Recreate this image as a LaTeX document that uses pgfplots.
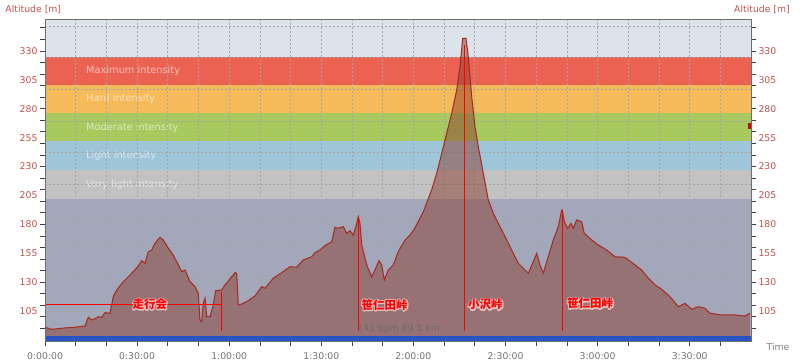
\documentclass[border=0pt]{standalone}
\usepackage{pgfplots}
\pgfplotsset{compat=1.18}
\usepackage{fontspec}
\setmainfont{DejaVu Sans}
\newfontfamily\cjk{Noto Sans CJK JP}
\definecolor{bgtop}{RGB}{221,227,234}
\definecolor{bgbot}{RGB}{163,167,186}
\definecolor{bmax}{RGB}{236,98,82}
\definecolor{bhard}{RGB}{245,186,90}
\definecolor{bmod}{RGB}{168,201,94}
\definecolor{blight}{RGB}{159,197,216}
\definecolor{bvlight}{RGB}{194,194,194}
\definecolor{proffill}{RGB}{140,62,48}
\definecolor{profline}{RGB}{165,40,30}
\definecolor{barblue}{RGB}{40,85,195}
\definecolor{ticklab}{RGB}{190,82,76}
\definecolor{gridc}{RGB}{165,165,165}
\definecolor{halo}{RGB}{240,205,205}
\definecolor{axc}{RGB}{110,110,110}
\tikzset{
  jhalo/.style={text=halo, text opacity=0.85, inner sep=0pt, font={\cjk\bfseries\fontsize{11.5bp}{13bp}\selectfont}},
  jtext/.style={text=red, inner sep=0pt, font={\cjk\bfseries\fontsize{11.5bp}{13bp}\selectfont}},
  gridl/.style={draw=gridc, line width=0.7bp, dash pattern=on 2bp off 2bp},
  bandlab/.style={text=white, text opacity=0.6, anchor=west, inner sep=0pt, font={\fontsize{9.8bp}{11bp}\selectfont}}
}
\newcommand{\outl}[1]{\special{pdf:literal direct q 1 Tr 2.2 w 1 j}#1\special{pdf:literal direct Q}}
\newcommand{\jlab}[4]{%
  \node[jhalo,anchor=#3] at (axis cs:#1,#2) {\outl{#4}};
  \node[jtext,anchor=#3] at (axis cs:#1,#2) {#4};
}
\begin{document}
\begin{tikzpicture}
\path[use as bounding box] (-45bp,-23bp) rectangle (755bp,341bp);
\begin{axis}[
  at={(0,0)}, anchor=south west,
  scale only axis, width=706bp, height=321bp,
  xmin=0, xmax=229.97, ymin=79.1, ymax=356.8,
  clip=false, axis on top,
  axis line style={draw=axc, line width=1bp},
  tick align=outside, major tick length=5bp,
  tick style={draw=black!75, line width=0.8bp},
  xtick pos=bottom, ytick pos=left,
  xtick={0,10,...,220},
  xticklabels={0:00:00,{},{},0:30:00,{},{},1:00:00,{},{},1:30:00,{},{},2:00:00,{},{},2:30:00,{},{},3:00:00,{},{},3:30:00,{},{}},
  xticklabel style={text=black!55, font={\fontsize{9.3bp}{11bp}\selectfont}, yshift=-3bp},
  ytick={90,100,...,350}, yticklabels={},
  extra y ticks={105,130,155,180,205,230,255,280,305,330},
  extra y tick labels={105,130,155,180,205,230,255,280,305,330},
  extra y tick style={major tick length=0pt, yticklabel style={text=ticklab, font={\fontsize{9.3bp}{11bp}\selectfont}, xshift=-4bp}},
]
% background and intensity bands
\fill[bgbot] (axis cs:0,79.1) rectangle (axis cs:229.97,202.0);
\fill[bvlight] (axis cs:0,202.0) rectangle (axis cs:229.97,227.1);
\fill[blight] (axis cs:0,227.1) rectangle (axis cs:229.97,252.0);
\fill[bmod] (axis cs:0,252.0) rectangle (axis cs:229.97,276.4);
\fill[bhard] (axis cs:0,276.4) rectangle (axis cs:229.97,300.6);
\fill[bmax] (axis cs:0,300.6) rectangle (axis cs:229.97,324.8);
\fill[bgtop] (axis cs:0,324.8) rectangle (axis cs:229.97,356.8);
\node[bandlab] at (axis cs:13.36,312.7) {Maximum intensity};
\node[bandlab] at (axis cs:13.36,288.5) {Hard intensity};
\node[bandlab] at (axis cs:13.36,263.4) {Moderate intensity};
\node[bandlab] at (axis cs:13.36,239.2) {Light intensity};
\node[bandlab] at (axis cs:13.36,214.1) {Very light intensity};
% grid
\pgfplotsinvokeforeach{10,20,...,220}{\draw[gridl] (axis cs:#1,79.1) -- (axis cs:#1,356.8);}
\pgfplotsinvokeforeach{105.0,132.4,159.8,187.2,214.6,242.0,269.4,296.8,324.2,351.6}{\draw[gridl] (axis cs:0,#1) -- (axis cs:229.97,#1);}
% altitude profile
\pgfplotstableread{
t alt
0 91.0
2.18 89.2
6.51 90.4
9.77 91.0
13.02 92.1
14.10 99.6
15.22 97.3
16.29 98.4
17.37 100.1
18.47 99.6
19.55 103.6
21.17 103.1
22.25 117.4
23.35 123.2
25.50 130.4
27.13 134.7
28.76 139.1
30.39 144.0
31.50 148.6
32.57 146.3
33.65 156.4
34.75 157.8
35.83 163.6
37.46 168.8
38.54 166.5
40.16 159.3
41.79 153.5
43.42 144.9
44.53 139.1
45.61 140.5
47.23 130.4
48.86 126.1
49.94 120.4
50.49 97.3
51.04 95.8
51.56 111.7
52.12 116.1
52.68 100.1
53.74 100.1
54.82 110.3
55.60 122.6
57.56 123.2
58.63 127.6
60.81 134.7
61.89 138.2
62.44 137.7
62.96 110.3
64.07 111.1
66.22 114.0
68.40 118.1
70.59 126.1
71.67 124.7
74.36 133.4
77.10 138.2
79.80 143.4
81.99 142.9
84.13 149.2
86.87 152.0
87.95 155.5
89.58 157.8
91.20 161.6
93.38 165.0
94.46 177.5
95.53 176.6
97.17 178.0
98.27 172.3
99.35 174.5
100.42 170.8
101.53 180.9
102.06 186.7
102.60 180.9
103.16 162.2
104.78 144.9
106.42 134.7
107.49 140.5
108.80 148.6
109.67 144.9
110.53 131.9
111.82 140.5
113.46 144.9
115.08 156.4
117.26 166.5
118.89 170.8
120.29 175.8
123.23 191.0
125.96 209.8
127.59 224.2
129.22 241.5
130.84 258.8
132.48 276.1
134.11 296.3
135.18 316.4
136.06 341.0
137.14 341.0
137.88 325.1
138.99 290.5
140.07 264.5
141.14 247.2
142.77 224.2
144.40 201.1
146.03 189.6
148.21 178.0
150.39 166.5
152.54 155.0
154.18 146.3
155.80 142.0
157.43 137.7
159.05 147.7
160.16 155.0
161.24 144.9
162.31 137.7
163.94 152.0
165.57 166.5
167.20 178.0
168.30 192.4
168.50 192.4
169.15 182.3
170.26 176.6
171.33 180.9
172.09 176.6
173.19 183.8
174.82 182.3
175.66 172.3
178.07 166.5
180.22 162.2
182.96 157.8
185.67 152.0
188.93 151.5
192.18 144.9
194.36 140.5
196.52 133.4
198.70 127.6
200.88 123.8
203.59 117.4
206.28 108.8
208.47 111.7
210.66 106.5
212.81 108.8
214.99 107.4
216.61 103.1
220.42 101.6
224.76 101.6
228.01 100.7
229.64 103.1
}\profile
\addplot[draw=none, fill=proffill, fill opacity=0.5] table[x=t,y=alt] {\profile} \closedcycle;
\addplot[draw=profline, line width=1bp] table[x=t,y=alt] {\profile};
% bottom bar
\fill[barblue] (axis cs:0,79.1) rectangle (axis cs:229.97,83.6);
% markers
\draw[red, line width=1bp] (axis cs:0,110.9) -- (axis cs:57.33,110.9);
\draw[red, line width=1bp] (axis cs:57.33,121.8) -- (axis cs:57.33,88.0);
\draw[red, line width=1bp] (axis cs:102.05,186.7) -- (axis cs:102.05,88.0);
\draw[red, line width=1bp] (axis cs:136.58,335.2) -- (axis cs:136.58,88.0);
\draw[red, line width=1bp] (axis cs:168.50,191.0) -- (axis cs:168.50,88.0);
\fill[red!85!black] (axis cs:229.1,262.5) rectangle (axis cs:229.97,268.0);
\jlab{34.20}{110.9}{center}{走行会}
\jlab{103.09}{110.3}{west}{笹仁田峠}
\jlab{137.79}{110.6}{west}{小沢峠}
\jlab{170.03}{111.7}{west}{笹仁田峠}
\node[anchor=west, inner sep=0pt, text=black!60, text opacity=0.8, font={\fontsize{9.3bp}{11bp}\selectfont}] at (axis cs:101.63,89.2) {143 bpm 89.1 km};
\end{axis}
\begin{axis}[
  at={(0,0)}, anchor=south west,
  scale only axis, width=706bp, height=321bp,
  xmin=0, xmax=229.97, ymin=79.1, ymax=356.8,
  hide x axis, axis y line*=right,
  axis line style={draw=axc, line width=1bp},
  tick align=outside, major tick length=5bp,
  tick style={draw=black!75, line width=0.8bp},
  ytick={90,100,...,350}, yticklabels={},
  extra y ticks={105,130,155,180,205,230,255,280,305,330},
  extra y tick labels={105,130,155,180,205,230,255,280,305,330},
  extra y tick style={major tick length=0pt, yticklabel style={text=ticklab, font={\fontsize{9.3bp}{11bp}\selectfont}, xshift=4bp}},
]
\end{axis}
\node[text=ticklab, font={\fontsize{9.3bp}{11bp}\selectfont}] at (-11.7bp,331.5bp) {Altitude [m]};
\node[text=ticklab, font={\fontsize{9.3bp}{11bp}\selectfont}] at (717bp,331.5bp) {Altitude [m]};
\node[text=black!50, font={\fontsize{9.3bp}{11bp}\selectfont}] at (733bp,-5.7bp) {Time};
\end{tikzpicture}
\end{document}
